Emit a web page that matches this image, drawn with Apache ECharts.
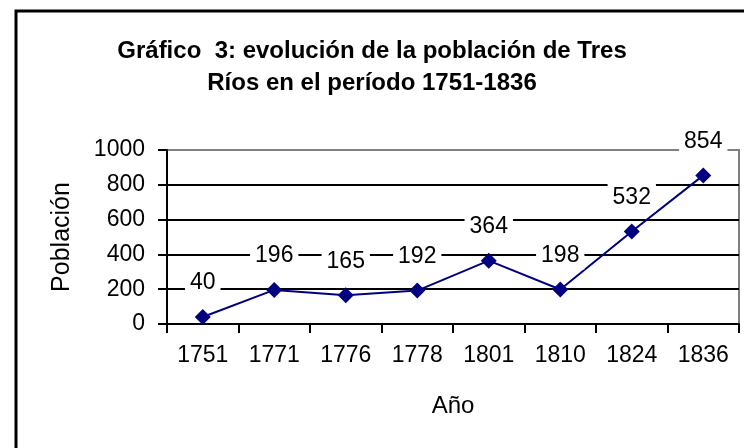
<!DOCTYPE html>
<html>
<head>
<meta charset="utf-8">
<title>Gráfico 3</title>
<script src="https://cdn.jsdelivr.net/npm/echarts@6/dist/echarts.min.js"></script>
<style>
  html, body { margin: 0; padding: 0; background: #fff; }
  #chart { width: 744px; height: 448px; }
</style>
</head>
<body>
<div id="chart"></div>
<script>
// datos del gráfico
const years = ["1751", "1771", "1776", "1778", "1801", "1810", "1824", "1836"];
const population = [40, 196, 165, 192, 364, 198, 532, 854];

const FONT = "'Liberation Sans', Arial, sans-serif";

const chart = echarts.init(document.getElementById("chart"), null, { renderer: "canvas" });

chart.setOption({
  backgroundColor: "#fff",
  animation: false,
  textStyle: { fontFamily: FONT },
  title: {
    text: "Gráfico  3: evolución de la población de Tres\nRíos en el período 1751-1836",
    left: "center",
    top: 30,
    textStyle: {
      fontFamily: FONT,
      fontSize: 24,
      fontWeight: "bold",
      color: "#000",
      lineHeight: 32,
    },
  },
  // marco exterior (sólo lados izquierdo y superior visibles)
  graphic: [
    {
      type: "polyline",
      shape: { points: [[16, 448], [16, 11], [744, 11]] },
      style: { stroke: "#000", lineWidth: 3, fill: null },
      silent: true,
    },
  ],
  grid: {
    left: 167,
    right: 5,
    top: 150,
    bottom: 124,
    show: true,
    borderColor: "#808080",
    borderWidth: 2,
    backgroundColor: "#fff",
  },
  xAxis: {
    type: "category",
    data: years,
    boundaryGap: true,
    name: "Año",
    nameLocation: "middle",
    nameGap: 70,
    nameTextStyle: { fontSize: 24, color: "#000", fontFamily: FONT },
    axisLine: { lineStyle: { color: "#000", width: 2 } },
    axisTick: {
      show: true,
      interval: 0,
      length: 9,
      lineStyle: { color: "#000", width: 2 },
    },
    axisLabel: {
      interval: 0,
      fontSize: 23,
      color: "#000",
      margin: 20,
      fontFamily: FONT,
    },
    splitLine: { show: false },
  },
  yAxis: {
    type: "value",
    min: 0,
    max: 1000,
    interval: 200,
    name: "Población",
    nameLocation: "middle",
    nameRotate: 90,
    nameGap: 92,
    nameTextStyle: { fontSize: 25, color: "#000", fontFamily: FONT },
    axisLine: { show: true, lineStyle: { color: "#000", width: 2 } },
    axisTick: { show: true, length: 9, lineStyle: { color: "#000", width: 2 } },
    axisLabel: {
      fontSize: 23,
      color: "#000",
      margin: 22,
      fontFamily: FONT,
      formatter: (v) => String(v),
    },
    splitLine: {
      show: true,
      showMaxLine: false,
      lineStyle: { color: "#000", width: 2 },
    },
  },
  series: [
    {
      name: "Población",
      type: "line",
      data: population,
      symbol: "diamond",
      symbolSize: 16,
      lineStyle: { color: "#000080", width: 2 },
      itemStyle: { color: "#000080" },
      label: {
        show: true,
        position: "top",
        distance: 12,
        fontSize: 23,
        lineHeight: 24,
        color: "#000",
        fontFamily: FONT,
        backgroundColor: "#fff",
        padding: [2, 5],
      },
    },
  ],
});
</script>
</body>
</html>
